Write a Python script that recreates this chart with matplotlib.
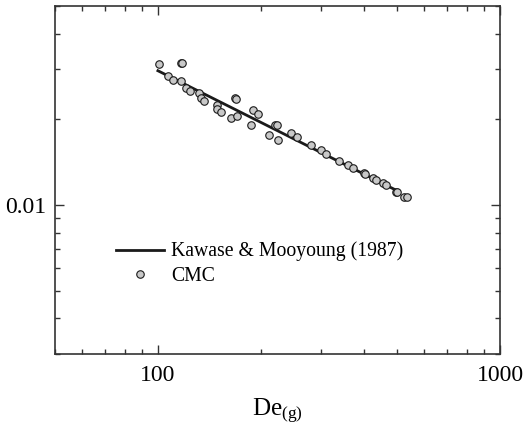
import numpy as np
import matplotlib
matplotlib.use("Agg")
import matplotlib.pyplot as plt
from matplotlib.ticker import LogLocator, NullFormatter, FixedLocator, FixedFormatter

plt.rcParams['font.family'] = ['Liberation Serif', 'DejaVu Serif']
plt.rcParams['mathtext.fontset'] = 'custom'
plt.rcParams['mathtext.rm'] = 'Liberation Serif'
plt.rcParams['mathtext.it'] = 'Liberation Serif'

# CMC data
cmc_de = [100.5, 117.0, 118.0, 107.0, 110.6, 116.8, 120.8, 124.3, 131.9, 134.0,
          136.7, 149.2, 148.6, 152.7, 168.2, 169.4, 164.1, 170.2, 187.4, 190.3,
          196.1, 210.6, 219.3, 222.3, 223.8, 244.3, 254.4, 280.4, 300.6, 310.9,
          339.5, 360.7, 371.3, 400.0, 403.9, 425.1, 434.9, 456.0, 465.3, 495.5,
          499.9, 525.5, 534.9]
cmc_f = [0.03117, 0.03160, 0.03160, 0.02848, 0.02748, 0.02735, 0.02577, 0.02505, 0.02471, 0.02373,
         0.02322, 0.02243, 0.02178, 0.02121, 0.02373, 0.02348, 0.02026, 0.02054, 0.01911, 0.02160,
         0.02092, 0.01763, 0.01906, 0.01906, 0.01694, 0.01796, 0.01740, 0.01624, 0.01554, 0.01514,
         0.01428, 0.01383, 0.01346, 0.01293, 0.01286, 0.01249, 0.01222, 0.01193, 0.01171, 0.01113,
         0.01113, 0.01070, 0.01064]

# Kawase & Mooyoung (1987) line end points
km_de = [100.0, 503.0]
km_f = [0.02963, 0.01119]

fig = plt.figure(figsize=(5.23, 4.32), dpi=100)
ax = fig.add_axes([0.105, 0.181, 0.851, 0.805])

ax.plot(km_de, km_f, color='#1a1a1a', lw=2.0, label='Kawase & Mooyoung (1987)', zorder=2)
ax.plot(cmc_de, cmc_f, 'o', ms=5.4, mfc='#c8c8c8', mec='#1a1a1a', mew=0.8,
        label='CMC', zorder=3)

ax.set_xscale('log')
ax.set_yscale('log')
ax.set_xlim(50, 1000)
ax.set_ylim(0.003, 0.05)

ax.xaxis.set_major_locator(FixedLocator([100, 1000]))
ax.xaxis.set_major_formatter(FixedFormatter(['100', '1000']))
ax.xaxis.set_minor_locator(LogLocator(base=10, subs=np.arange(2, 10)))
ax.xaxis.set_minor_formatter(NullFormatter())
ax.yaxis.set_major_locator(FixedLocator([0.01]))
ax.yaxis.set_major_formatter(FixedFormatter(['0.01']))
ax.yaxis.set_minor_locator(LogLocator(base=10, subs=np.arange(2, 10)))
ax.yaxis.set_minor_formatter(NullFormatter())

ax.tick_params(which='both', direction='in', top=True, right=True,
               color='#333333', width=1.0)
ax.tick_params(which='major', length=6.3, labelsize=17)
ax.tick_params(axis='y', which='major', pad=6)
ax.tick_params(axis='x', which='major', pad=8)
ax.tick_params(which='minor', length=3.3)
for s in ax.spines.values():
    s.set_color('#333333')
    s.set_linewidth(1.2)

ax.set_xlabel(r'De$_{\mathrm{(g)}}$', fontsize=18, labelpad=8)

ax.legend(loc='upper left', bbox_to_anchor=(0.12, 0.345), frameon=False,
          fontsize=14.2, numpoints=1, handlelength=2.4, handletextpad=0.4,
          labelspacing=0.3, borderaxespad=0)

fig.savefig('out.png', dpi=100)
